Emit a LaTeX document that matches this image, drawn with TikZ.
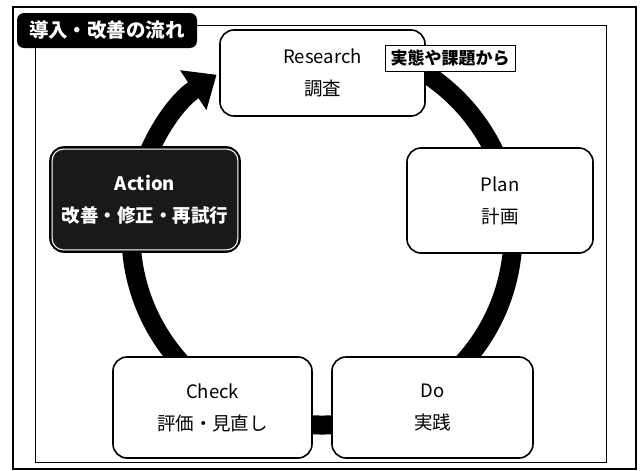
\documentclass[tikz,border=0pt]{standalone}
\usepackage{fontspec}
\setmainfont{Noto Sans CJK JP}
\usetikzlibrary{arrows.meta}
\begin{document}
\begin{tikzpicture}[x=1pt,y=1pt,
  box/.style={draw=black, line width=1.6pt, fill=white, rounded corners=14pt,
    align=center, font=\fontsize{18.5}{32}\selectfont, inner sep=0pt},
  actionbox/.style={box, fill=black!90, text=white,
    font=\bfseries\fontsize{18.5}{32}\selectfont},
  cycle/.style={line width=19pt, black},
  labelbox/.style={draw=black, line width=0.8pt, fill=white, inner sep=0pt,
    font=\bfseries\fontsize{17}{17}\selectfont},
  titlebox/.style={fill=black, rounded corners=7pt, text=white, inner sep=0pt,
    font=\bfseries\fontsize{19.5}{20}\selectfont}]
\useasboundingbox (0,0) rectangle (641,-471);
% frames
\draw[line width=2pt] (13,-7) rectangle (636,-469);
\draw[line width=1pt] (35,-25) rectangle (606,-462);
% cycle arc
\coordinate (c) at (322,-234);
\draw[cycle, -{Triangle[length=28pt,width=46pt]}]
  ([shift={(80:191pt)}]c) arc[start angle=80, end angle=-236.5, radius=191pt];
% title
\node[titlebox, minimum width=180pt, minimum height=35pt] (title) at (107,-30.5) {導入・改善の流れ};
% boxes
\node[box, minimum width=205pt, minimum height=86pt] (research) at (322.5,-73) {Research\\調査};
\node[box, minimum width=186pt, minimum height=105pt] (plan) at (500,-200.5) {Plan\\計画};
\node[box, minimum width=201pt, minimum height=101pt] (do) at (432.5,-407.5) {Do\\実践};
\node[box, minimum width=199pt, minimum height=101pt] (check) at (212.5,-407.5) {Check\\評価・見直し};
\node[actionbox, minimum width=190pt, minimum height=105pt] (action) at (145,-199.5) {Action\\改善・修正・再試行};
\draw[white, line width=1pt, rounded corners=11pt]
  ([shift={(3pt,-3pt)}]action.north west) rectangle ([shift={(-3pt,3pt)}]action.south east);
% label
\node[labelbox, minimum width=130pt, minimum height=26pt] (label) at (450,-58) {実態や課題から};
\end{tikzpicture}
\end{document}
